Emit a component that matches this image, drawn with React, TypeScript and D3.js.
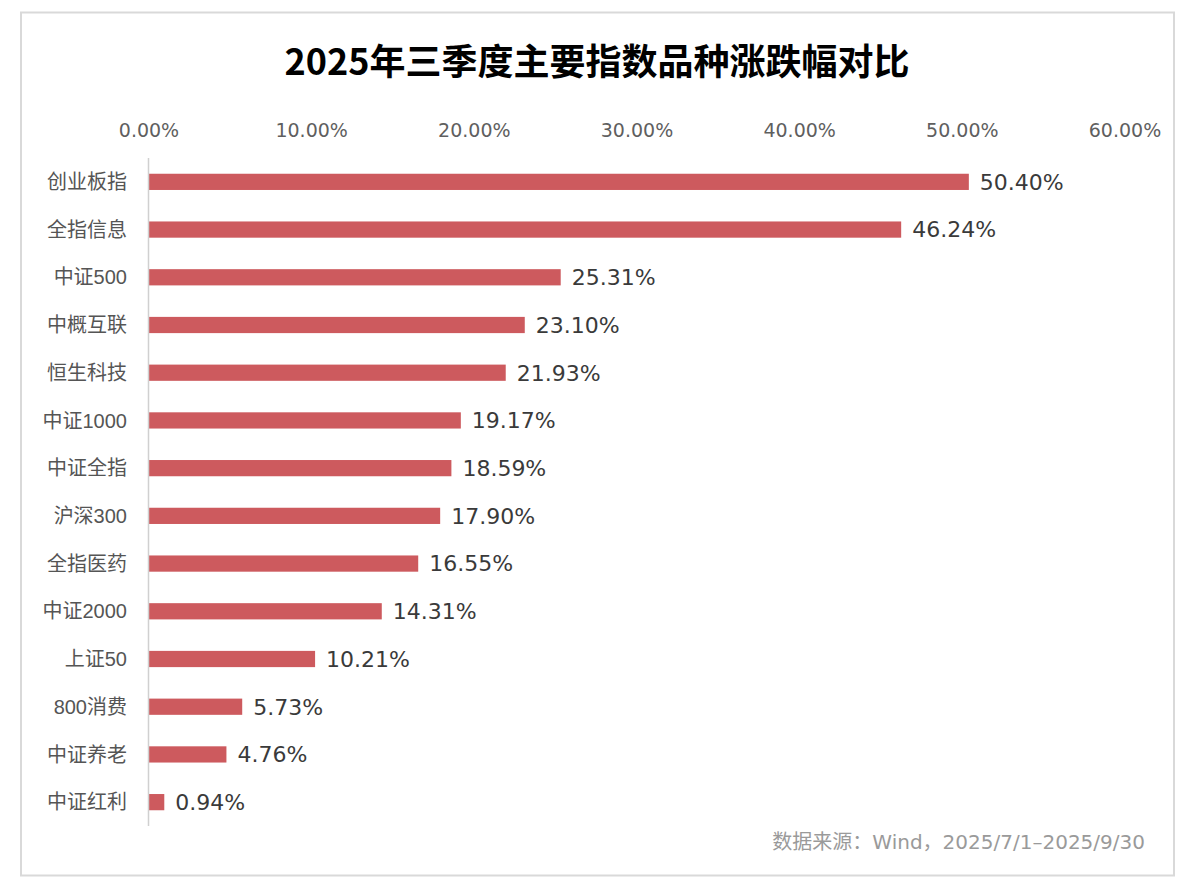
import React, { useEffect, useRef } from 'react';
import * as d3 from 'd3';

const categories = ['创业板指', '全指信息', '中证500', '中概互联', '恒生科技', '中证1000', '中证全指', '沪深300', '全指医药', '中证2000', '上证50', '800消费', '中证养老', '中证红利'];
const changes = [50.40, 46.24, 25.31, 23.10, 21.93, 19.17, 18.59, 17.90, 16.55, 14.31, 10.21, 5.73, 4.76, 0.94];
const xTicks = [0, 10, 20, 30, 40, 50, 60];

const title = '2025年三季度主要指数品种涨跌幅对比';
const source = '数据来源：Wind，2025/7/1–2025/9/30';

const CJK = '"Noto Sans CJK SC", sans-serif';
const LAT = '"Liberation Sans", "Noto Sans CJK SC", sans-serif';
const NUM = '"DejaVu Sans", "Noto Sans CJK SC", sans-serif';

const App: React.FC = () => {
  const svgRef = useRef<SVGSVGElement>(null);

  useEffect(() => {
    if (!svgRef.current) return;
    const svg = d3.select(svgRef.current);
    svg.selectAll('*').remove();

    // frame
    svg.append('rect')
      .attr('x', 21).attr('y', 12.5)
      .attr('width', 1153).attr('height', 863)
      .attr('fill', '#fff')
      .attr('stroke', '#d9d9d9')
      .attr('stroke-width', 2);

    svg.append('text')
      .attr('x', 597).attr('y', 75)
      .attr('text-anchor', 'middle')
      .attr('font-family', CJK)
      .attr('font-size', 36)
      .attr('font-weight', 'bold')
      .attr('fill', '#000')
      .text(title);

    const x = d3.scaleLinear().domain([0, 60]).range([149, 1125]);
    const y = d3.scaleBand<string>().domain(categories).range([158, 826]).paddingInner(0.66).paddingOuter(0.33);

    // top tick labels
    svg.append('g').selectAll('text')
      .data(xTicks)
      .enter().append('text')
      .attr('x', d => x(d))
      .attr('y', 137)
      .attr('text-anchor', 'middle')
      .attr('font-family', NUM)
      .attr('font-size', 19)
      .attr('fill', '#5f5f5f')
      .text(d => d.toFixed(2) + '%');

    // bars
    svg.append('g').selectAll('rect')
      .data(changes)
      .enter().append('rect')
      .attr('x', x(0))
      .attr('y', (_, i) => y(categories[i])!)
      .attr('width', d => x(d) - x(0))
      .attr('height', y.bandwidth())
      .attr('fill', '#CD5A5E');

    // vertical axis line
    svg.append('line')
      .attr('x1', 148.5).attr('x2', 148.5)
      .attr('y1', 158).attr('y2', 826)
      .attr('stroke', '#d0d0d0')
      .attr('stroke-width', 1.5);

    // category labels
    svg.append('g').selectAll('text')
      .data(categories)
      .enter().append('text')
      .attr('x', 127)
      .attr('y', d => y(d)! + y.bandwidth() / 2)
      .attr('dy', '0.36em')
      .attr('text-anchor', 'end')
      .attr('font-family', LAT)
      .attr('font-size', 20)
      .attr('fill', '#555')
      .text(d => d);

    // value labels
    svg.append('g').selectAll('text')
      .data(changes)
      .enter().append('text')
      .attr('x', d => x(d) + 11)
      .attr('y', (_, i) => y(categories[i])! + y.bandwidth() / 2)
      .attr('dy', '0.36em')
      .attr('font-family', NUM)
      .attr('font-size', 22)
      .attr('fill', '#3a3a3a')
      .text(d => d.toFixed(2) + '%');

    svg.append('text')
      .attr('x', 1145).attr('y', 849)
      .attr('text-anchor', 'end')
      .attr('font-family', NUM)
      .attr('font-size', 20)
      .attr('fill', '#9a9a9a')
      .text(source);
  }, []);

  return (
    <svg ref={svgRef} width={1194} height={896} viewBox="0 0 1194 896"
      style={{ position: 'absolute', left: 0, top: 0, display: 'block' }} />
  );
};

export default App;
